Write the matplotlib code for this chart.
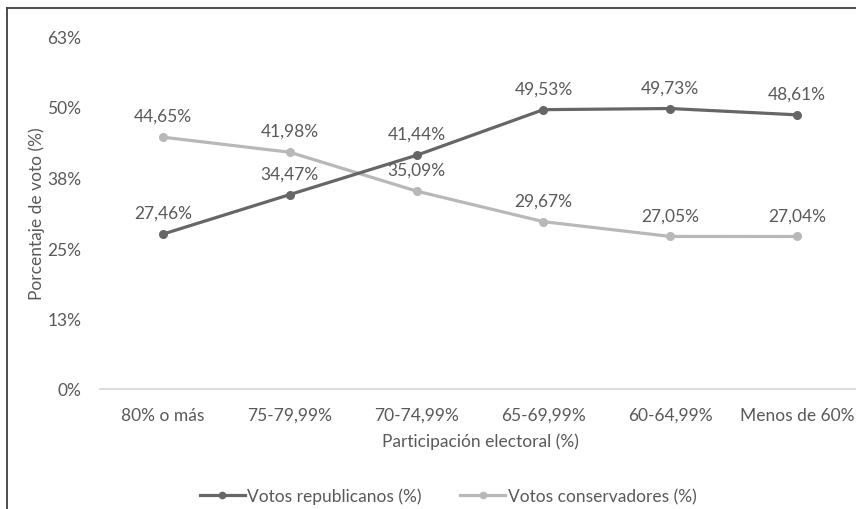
import matplotlib
matplotlib.use("Agg")
import matplotlib.pyplot as plt
from matplotlib.lines import Line2D

# Datos
categorias = ["80% o más", "75-79,99%", "70-74,99%", "65-69,99%", "60-64,99%", "Menos de 60%"]
republicanos = [27.46, 34.47, 41.44, 49.53, 49.73, 48.61]
conservadores = [44.65, 41.98, 35.09, 29.67, 27.05, 27.04]
yticks = [0, 12.5, 25, 37.5, 50, 62.5]

plt.rcParams["font.family"] = ["Lato", "DejaVu Sans"]
gris_texto = "#595959"
oscuro = "#666666"
claro = "#b8b8b8"
fs = 12.5

fig = plt.figure(figsize=(8.56, 5.10), dpi=100)
ax = fig.add_axes([99.5 / 856, 120 / 510, 761 / 856, 352.5 / 510])

x = range(len(categorias))
ax.plot(x, republicanos, color=oscuro, lw=2.3, marker="o", ms=5.5, zorder=3)
ax.plot(x, conservadores, color=claro, lw=2.3, marker="o", ms=5.5, zorder=2)

# Etiquetas de datos encima de cada punto
for serie in (republicanos, conservadores):
    for i, v in enumerate(serie):
        ax.annotate(f"{v:.2f}%".replace(".", ","), (i, v), xytext=(0, 9.5),
                    textcoords="offset points", ha="center", va="bottom",
                    fontsize=fs, color=gris_texto, zorder=4)

ax.set_xlim(-0.5, len(categorias) - 0.5)
ax.set_ylim(0, 62.5)
ax.set_xticks(list(x))
ax.set_xticklabels(categorias)
ax.set_yticks(yticks)
ax.set_yticklabels([f"{round(t + 0.001):d}%" for t in yticks])
ax.tick_params(length=0, labelsize=fs, labelcolor=gris_texto)
ax.tick_params(axis="x", pad=13)
ax.tick_params(axis="y", pad=13)

for lado in ["top", "right", "left"]:
    ax.spines[lado].set_visible(False)
ax.spines["bottom"].set_color("#d9d9d9")
ax.spines["bottom"].set_linewidth(1.3)

ax.set_xlabel("Participación electoral (%)", fontsize=fs, color=gris_texto, labelpad=7)
ax.set_ylabel("Porcentaje de voto (%)", fontsize=fs, color=gris_texto, labelpad=2)

# Leyenda abajo
manejadores = [
    Line2D([], [], color=oscuro, lw=2.3, marker="o", ms=4.5),
    Line2D([], [], color=claro, lw=2.3, marker="o", ms=4.5),
]
fig.legend(manejadores, ["Votos republicanos (%)", "Votos conservadores (%)"],
           loc="center", bbox_to_anchor=(448 / 856, 1 - 497 / 510), ncol=2,
           frameon=False, fontsize=fs, labelcolor=gris_texto,
           handlelength=2.6, handletextpad=0.15, columnspacing=2.2)

# Marco del área del gráfico (solo arriba y a la izquierda visibles)
fig.add_artist(Line2D([7 / 856, 1], [1 - 9 / 510, 1 - 9 / 510], color="#404040", lw=1.3))
fig.add_artist(Line2D([7 / 856, 7 / 856], [0, 1 - 9 / 510], color="#404040", lw=1.3))

plt.savefig("out.png", dpi=100)
